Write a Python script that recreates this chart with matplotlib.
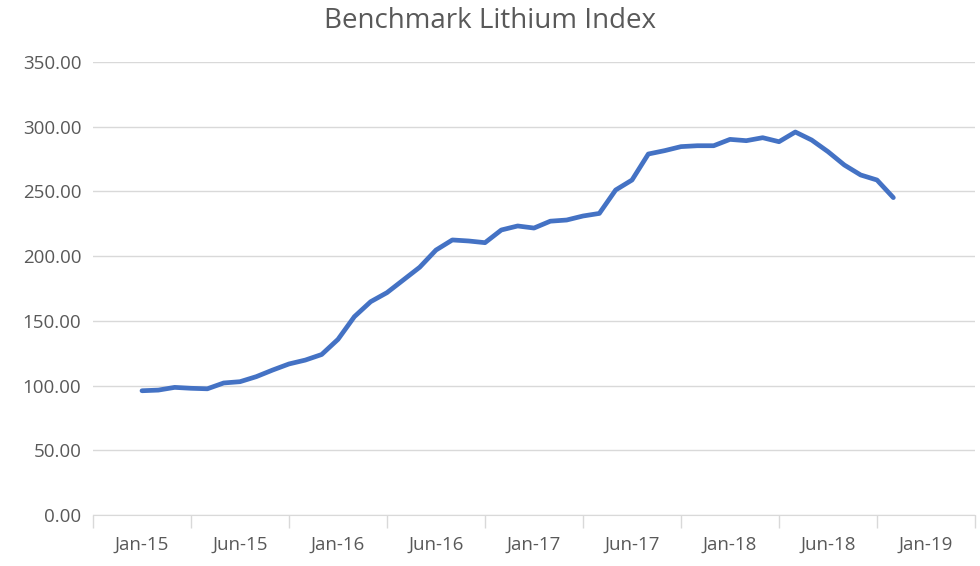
import matplotlib
matplotlib.use("Agg")
import matplotlib.pyplot as plt

# monthly index values, Jan-15 .. Nov-18
index_values = [
    96.0, 96.5, 98.6, 97.9, 97.5, 102.0, 103.0, 106.9, 112.0, 116.7,
    119.7, 124.0, 135.7, 153.2, 164.8, 171.8, 181.6, 191.4, 204.7, 212.5,
    211.7, 210.4, 220.2, 223.3, 221.7, 227.0, 227.9, 231.0, 233.0, 251.1,
    258.8, 278.9, 281.5, 284.6, 285.3, 285.3, 290.2, 289.2, 291.5, 288.4,
    295.9, 289.7, 280.7, 270.4, 262.7, 258.8, 245.2,
]
tick_labels = ["Jan-15", "Jun-15", "Jan-16", "Jun-16", "Jan-17",
               "Jun-17", "Jan-18", "Jun-18", "Jan-19"]
y_ticks = [0, 50, 100, 150, 200, 250, 300, 350]

plt.rcParams["font.family"] = ["Open Sans", "DejaVu Sans"]
text_grey = "#595959"

fig = plt.figure(figsize=(9.8, 5.66), dpi=100)
ax = fig.add_axes([0.0949, 0.0901, 0.9, 0.8004])

months = list(range(len(index_values)))
ax.plot(months, index_values, color="#4472C4", linewidth=3.4,
        solid_capstyle="round", solid_joinstyle="round", zorder=3)

ax.set_ylim(0, 350)
ax.set_yticks(y_ticks)
ax.set_yticklabels([f"{v:.2f}" for v in y_ticks])
ax.grid(axis="y", color="#d9d9d9", linewidth=1.0)
ax.set_axisbelow(True)

ax.set_xlim(-3, 51)
major = [6 * i for i in range(len(tick_labels))]
ax.set_xticks(major)
ax.set_xticklabels(tick_labels)
ax.set_xticks([m - 3 for m in major] + [51], minor=True)
ax.tick_params(axis="x", which="major", length=0, pad=15,
               labelsize=13.5, labelcolor=text_grey)
ax.tick_params(axis="x", which="minor", length=9, width=1, color="#d9d9d9")
ax.tick_params(axis="y", length=0, pad=8.5, labelsize=13.5,
               labelcolor=text_grey)

for side in ["top", "right", "left"]:
    ax.spines[side].set_visible(False)
ax.spines["bottom"].set_color("#d9d9d9")

fig.suptitle("Benchmark Lithium Index", y=0.988, fontsize=20,
             color=text_grey)

fig.savefig("out.png", dpi=100)
